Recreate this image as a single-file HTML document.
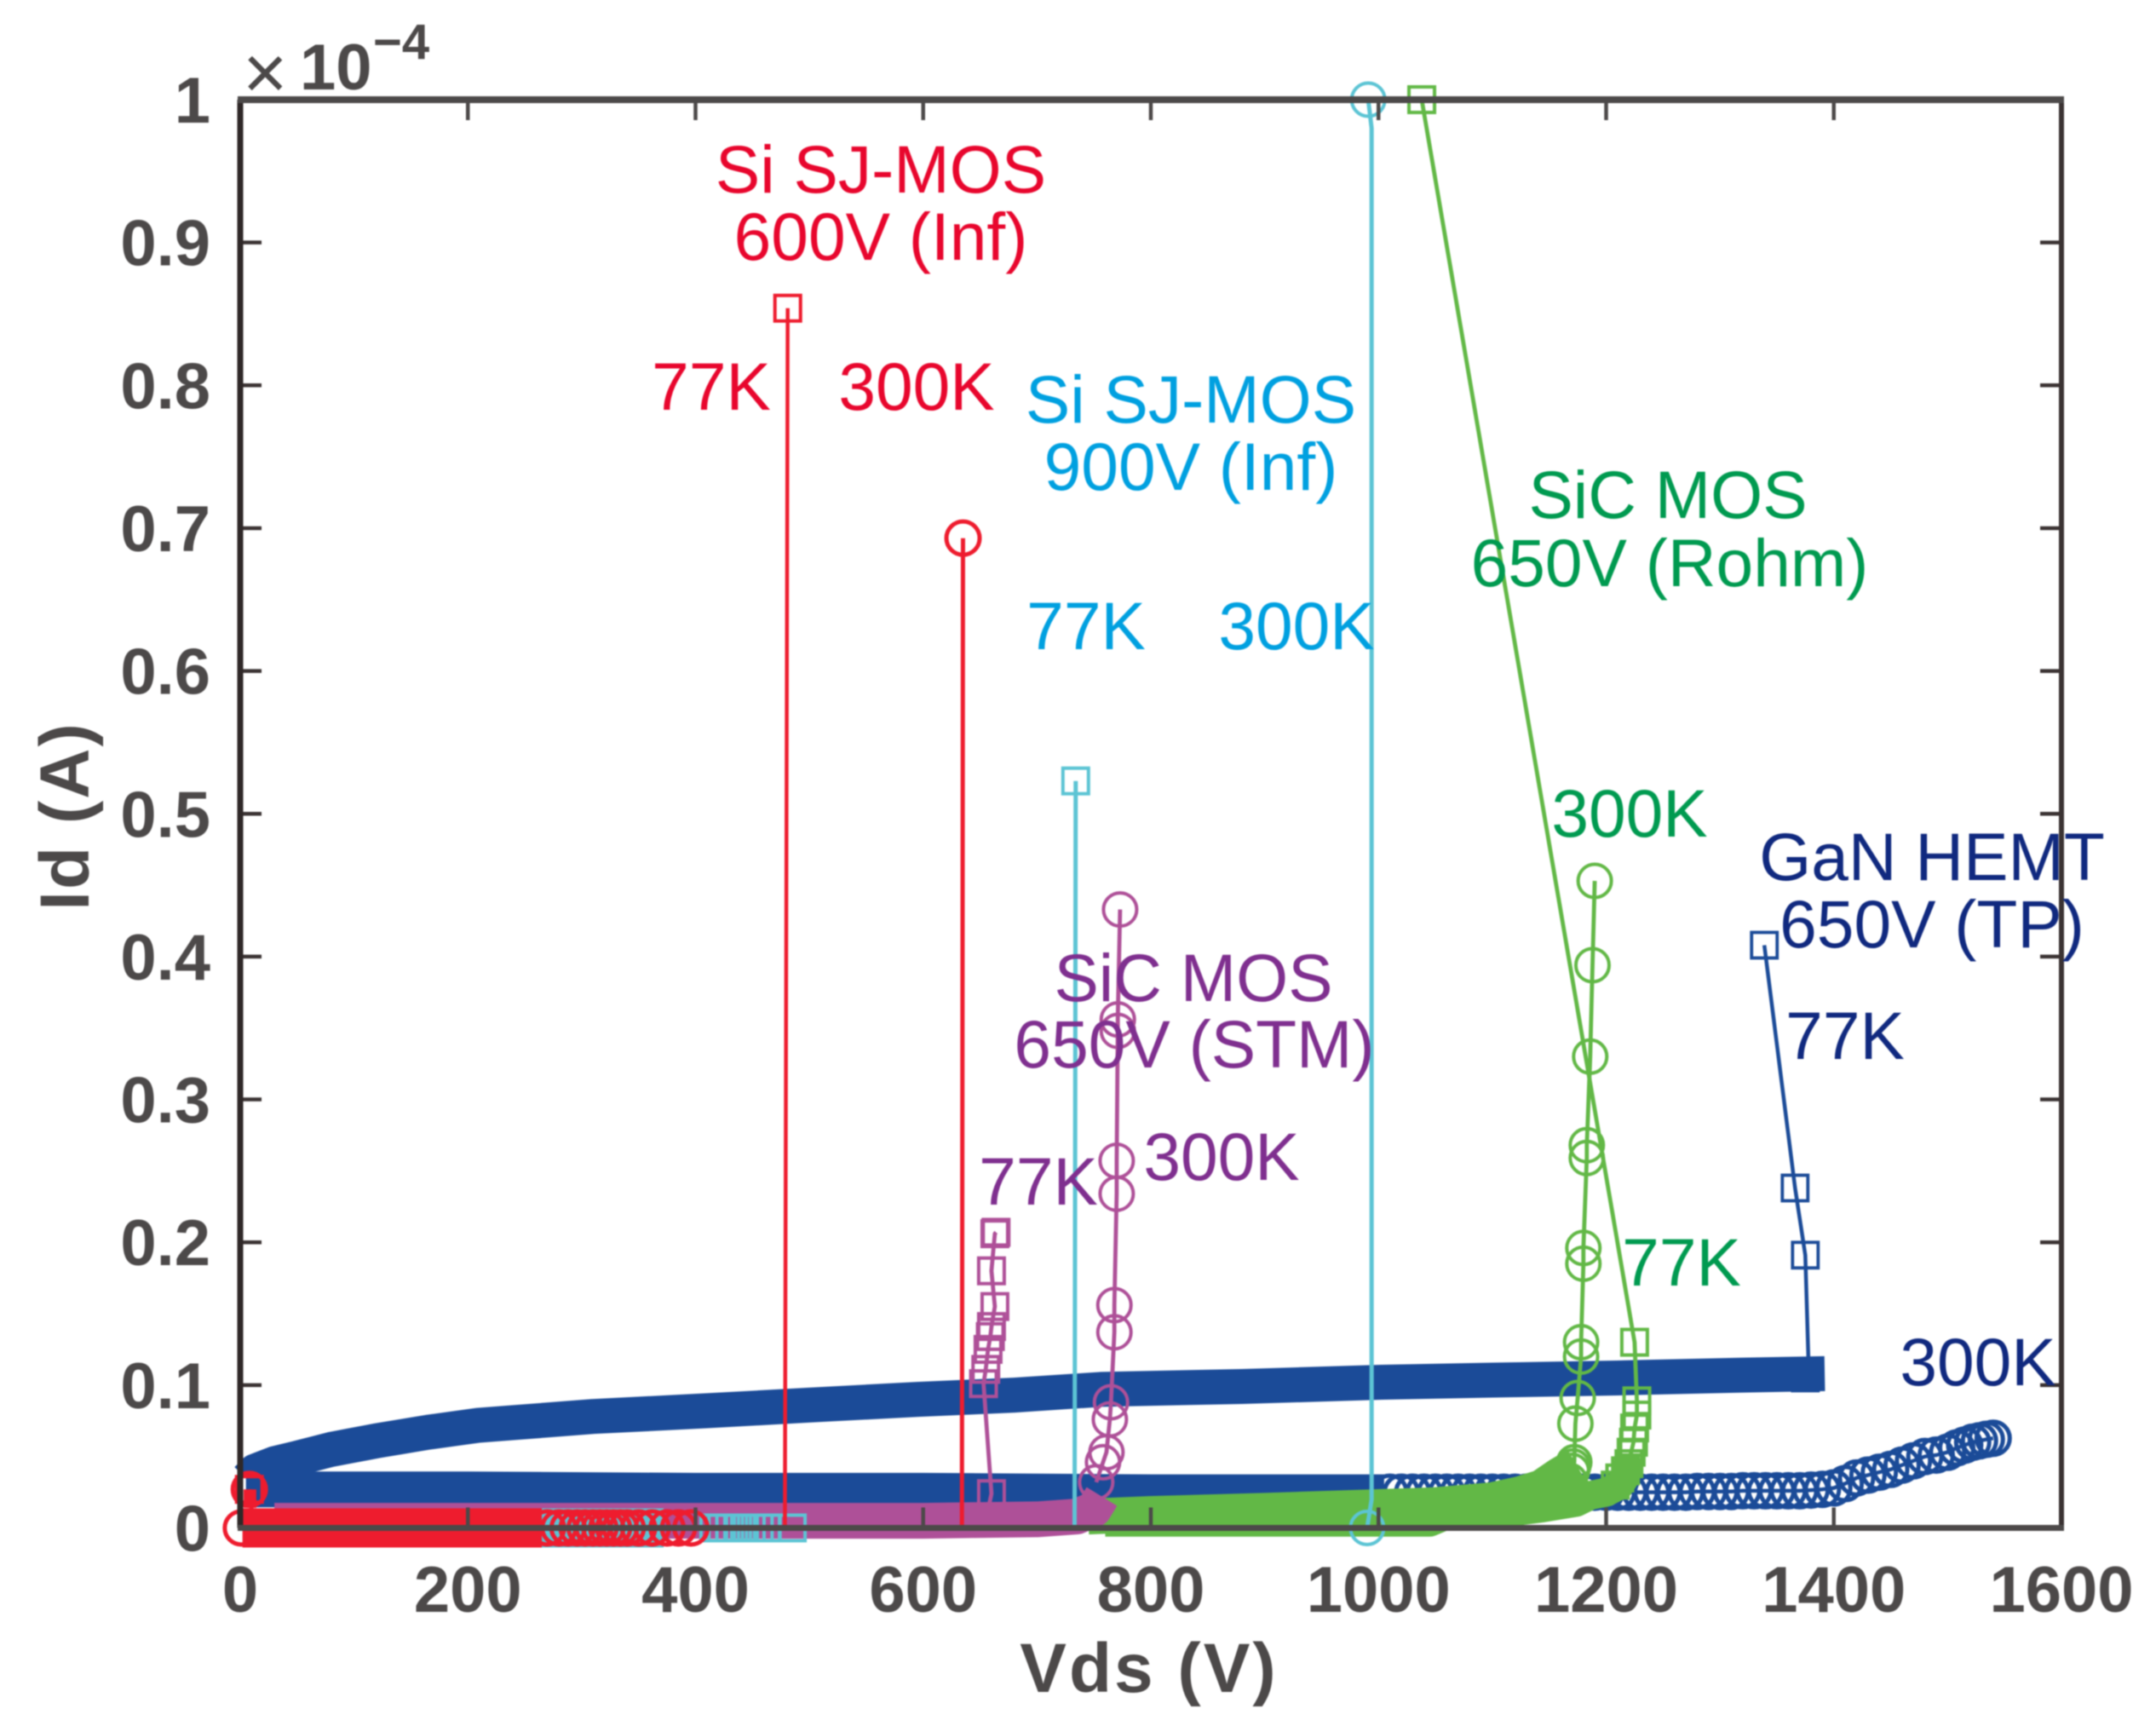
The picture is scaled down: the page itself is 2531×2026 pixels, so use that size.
<!DOCTYPE html>
<html lang="en">
<head>
<meta charset="utf-8">
<title>Id vs Vds breakdown chart</title>
<style>
html,body{margin:0;padding:0;background:#fff;}
#chart{display:block;width:2531px;height:2026px;filter:blur(0.7px);font-family:"Liberation Sans",sans-serif;}
.tick{font-weight:bold;font-size:76px;fill:#4c4949;}
.lab{font-size:78.5px;text-anchor:middle;}
.red{fill:#e8062d}.cyan{fill:#00a0e0}.green{fill:#009a50}.purple{fill:#7f2f8f}.navy{fill:#10297f}
</style>
</head>
<body>
<svg id="chart" xmlns="http://www.w3.org/2000/svg" width="2531" height="2026" viewBox="0 0 2531 2026">
  <rect x="0" y="0" width="2531" height="2026" fill="#fff"/>
  <g id="series"></g>
  <g id="axes"></g>

  <text x="285" y="116" font-size="90" fill="#4c4949">×</text>
  <text x="352" y="105" font-size="76" font-weight="bold" fill="#4c4949">10</text>
  <text x="438" y="69" font-size="58" font-weight="bold" fill="#4c4949">−4</text>
  <text x="1349" y="1986" font-size="82" font-weight="bold" fill="#4c4949" text-anchor="middle" letter-spacing="3">Vds (V)</text>
  <text transform="translate(104 958) rotate(-90)" font-size="82" font-weight="bold" fill="#4c4949" text-anchor="middle" letter-spacing="2">Id (A)</text>

  <text class="lab red" x="1034" y="226">Si SJ-MOS</text>
  <text class="lab red" x="1034" y="305">600V (Inf)</text>
  <text class="lab red" x="835" y="481">77K</text>
  <text class="lab red" x="1076" y="481">300K</text>

  <text class="lab cyan" x="1398" y="496">Si SJ-MOS</text>
  <text class="lab cyan" x="1398" y="575">900V (Inf)</text>
  <text class="lab cyan" x="1275" y="762">77K</text>
  <text class="lab cyan" x="1522" y="762">300K</text>

  <text class="lab green" x="1958" y="608">SiC MOS</text>
  <text class="lab green" x="1960" y="688">650V (Rohm)</text>
  <text class="lab green" x="1913" y="982">300K</text>
  <text class="lab green" x="1974" y="1509">77K</text>

  <text class="lab purple" x="1401" y="1175">SiC MOS</text>
  <text class="lab purple" x="1402" y="1253">650V (STM)</text>
  <text class="lab purple" x="1434" y="1385">300K</text>
  <text class="lab purple" x="1219" y="1414">77K</text>

  <text class="lab navy" x="2268" y="1033">GaN HEMT</text>
  <text class="lab navy" x="2268" y="1112">650V (TP)</text>
  <text class="lab navy" x="2166" y="1243">77K</text>
  <text class="lab navy" x="2322" y="1626">300K</text>
</svg>

<script>
// Axis tick values and labels
var xTickValues = [0, 200, 400, 600, 800, 1000, 1200, 1400, 1600];
var xTickLabels = ["0", "200", "400", "600", "800", "1000", "1200", "1400", "1600"];
var yTickValues = [0, 0.1, 0.2, 0.3, 0.4, 0.5, 0.6, 0.7, 0.8, 0.9, 1];
var yTickLabels = ["0", "0.1", "0.2", "0.3", "0.4", "0.5", "0.6", "0.7", "0.8", "0.9", "1"];

// GaN HEMT 77K: dense run + upper points
var gan77BandV = [6, 13, 30, 49, 80, 120, 165, 209, 310, 409, 500, 595, 680, 756, 880, 1003, 1100, 1210, 1321, 1392];
var gan77BandI = [0.034, 0.0397, 0.045, 0.0487, 0.055, 0.061, 0.067, 0.0718, 0.078, 0.082, 0.086, 0.09, 0.093, 0.097, 0.099, 0.102, 0.1035, 0.105, 0.107, 0.108];
var gan77V = [1370, 1375, 1378, 1375, 1366, 1339];
var gan77I = [0.108, 0.105, 0.109, 0.191, 0.238, 0.408];

// GaN HEMT 300K: dense run + resolved circles
var gan300BandV = [5, 30, 200, 400, 600, 800, 1005];
var gan300BandI = [0.027, 0.027, 0.027, 0.026, 0.026, 0.025, 0.025];
var gan300V = [1010, 1020, 1030, 1040, 1050, 1060, 1070, 1080, 1090, 1100, 1110, 1120, 1130, 1140, 1150, 1160, 1170, 1180, 1190, 1200, 1210, 1220, 1230, 1240, 1250, 1260, 1270, 1280, 1290, 1300, 1310, 1320, 1330, 1340, 1350, 1360, 1370, 1380, 1390, 1400, 1410, 1420, 1430, 1440, 1450, 1460, 1470, 1480, 1490, 1500, 1508, 1515, 1522, 1528, 1534, 1540];
var gan300I = [0.025, 0.025, 0.025, 0.025, 0.025, 0.025, 0.025, 0.025, 0.025, 0.025, 0.025, 0.025, 0.025, 0.025, 0.025, 0.025, 0.025, 0.025, 0.025, 0.025, 0.025, 0.025, 0.025, 0.025, 0.025, 0.025, 0.025, 0.0255, 0.0255, 0.0255, 0.0255, 0.026, 0.026, 0.026, 0.026, 0.026, 0.026, 0.0265, 0.027, 0.028, 0.031, 0.035, 0.037, 0.039, 0.041, 0.044, 0.047, 0.05, 0.051, 0.053, 0.056, 0.058, 0.06, 0.061, 0.062, 0.0628];

// SiC MOS 650V (Rohm)
var rohm300BandV = [745, 800, 900, 1000, 1050, 1099, 1124, 1143, 1159, 1174];
var rohm300BandI = [0.008, 0.0098, 0.012, 0.0146, 0.016, 0.0193, 0.0236, 0.0283, 0.037, 0.044];
var rohm300V = [1168, 1170, 1171, 1172, 1173, 1175, 1178, 1178, 1180, 1180, 1183, 1183, 1186, 1188, 1190];
var rohm300I = [0.033, 0.04, 0.043, 0.046, 0.073, 0.091, 0.12, 0.13, 0.185, 0.196, 0.259, 0.268, 0.33, 0.394, 0.453];
var rohm77BandV = [760, 900, 1000, 1045, 1060, 1124, 1144, 1174, 1186, 1200, 1212, 1217, 1221];
var rohm77BandI = [0.004, 0.004, 0.004, 0.004, 0.009, 0.012, 0.014, 0.018, 0.0228, 0.025, 0.03, 0.036, 0.05];
var rohm77V = [1208, 1212, 1217, 1220, 1222, 1224, 1225, 1227, 1227, 1225, 1038];
var rohm77I = [0.03, 0.035, 0.04, 0.045, 0.053, 0.06, 0.07, 0.079, 0.089, 0.13, 1.0];

// SiC MOS 650V (STM)
var stmBandV = [30, 200, 400, 600, 700, 735, 750, 757];
var stmBandI = [0.005, 0.005, 0.005, 0.005, 0.006, 0.008, 0.013, 0.022];
var stm300V = [752, 758, 761, 764, 765, 768, 768, 770, 770, 771, 771, 773];
var stm300I = [0.032, 0.046, 0.053, 0.076, 0.088, 0.137, 0.156, 0.234, 0.257, 0.348, 0.356, 0.433];
var stm77V = [655, 660, 653, 655, 657, 659, 660, 663, 660, 663, 664];
var stm77I = [0.005, 0.024, 0.101, 0.111, 0.125, 0.134, 0.141, 0.155, 0.18, 0.206, 0.207];

// Si SJ-MOS 900V
var si900BandV = [30, 150, 300, 372];
var si900BandI = [0, 0, 0, 0];
var si900SquareV = [416, 423, 430, 437, 443, 449, 456, 463, 485, 734];
var si900SquareI = [0, 0, 0, 0, 0, 0, 0, 0, 0, 0.523];
var si900q77V = [416, 485, 733, 734];
var si900q77I = [0, 0, 0, 0.523];
var si900q300V = [990, 994, 994, 991];
var si900q300I = [0, 0.02, 0.98, 1.0];

// Si SJ-MOS 600V
var si600BandV = [2, 100, 200, 265];
var si600BandI = [0, 0, 0, 0];
var si600RampV = [8.5, 8.5];
var si600RampI = [0.027, 0.014];
var si600RingV = [1, 8, 270, 280, 288, 296, 303, 310, 316, 322, 328, 334, 340, 350, 362, 375, 385, 396, 635];
var si600RingI = [0, 0.027, 0, 0, 0, 0, 0, 0, 0, 0, 0, 0, 0, 0, 0, 0, 0, 0, 0.693];
var si600q300V = [396, 634, 635];
var si600q300I = [0, 0, 0.693];
var si600q77V = [8, 12, 478.5, 481];
var si600q77I = [0.027, 0, 0, 0.854];
var si600SquareV = [8, 481];
var si600SquareI = [0.027, 0.854];

var SVGNS = "http://www.w3.org/2000/svg";
var seriesLayer = document.getElementById("series");
var axesLayer = document.getElementById("axes");

var AX_LEFT = 282, AX_RIGHT = 2420, AX_TOP = 117, AX_BOTTOM = 1793.5;
function xScale(v) { return AX_LEFT + v * (AX_RIGHT - AX_LEFT) / 1600; }
function yScale(i) { return AX_BOTTOM - i * (AX_BOTTOM - AX_TOP); }

function make(tag, parent, props) {
  var e = document.createElementNS(SVGNS, tag);
  for (var k in props) { e.setAttribute(k, props[k]); }
  parent.appendChild(e);
  return e;
}
function pointsOf(vs, is) {
  return vs.map(function (v, n) { return xScale(v).toFixed(1) + "," + yScale(is[n]).toFixed(1); }).join(" ");
}

function drawBand(name, vs, is, color, width, cap) {
  var el = make("polyline", seriesLayer, { points: pointsOf(vs, is), fill: "none", stroke: color, "stroke-width": width, "stroke-linecap": cap, "stroke-linejoin": "round" });
  
  
}
function drawLine(name, vs, is, color, width) {
  var el = make("polyline", seriesLayer, { points: pointsOf(vs, is), fill: "none", stroke: color, "stroke-width": width, "stroke-linejoin": "round" });
  
  
}
function drawCircles(name, vs, is, color, sw) {
  vs.forEach(function (v, n) {
    var el = make("circle", seriesLayer, { cx: xScale(v), cy: yScale(is[n]), r: 19.5, fill: "none", stroke: color, "stroke-width": sw });
    
    
  });
}
function drawSquares(name, vs, is, color, sw) {
  vs.forEach(function (v, n) {
    var el = make("rect", seriesLayer, { x: xScale(v) - 15, y: yScale(is[n]) - 15, width: 30, height: 30, fill: "none", stroke: color, "stroke-width": sw });
    
    
  });
}

var BLUE = "#1b4b98", GREEN = "#62b846", PURPLE = "#ae5098", CYAN = "#5cc4d4", RED = "#ee1c2e";

// GaN
drawBand("gan-77k-band", gan77BandV, gan77BandI, BLUE, 41, "butt");
drawBand("gan-300k-band", gan300BandV, gan300BandI, BLUE, 42, "butt");
drawLine("gan-300k-line", gan300V, gan300I, BLUE, 4.5);
drawCircles("gan-300k-point", gan300V, gan300I, BLUE, 5);
drawLine("gan-77k-line", gan77V, gan77I, BLUE, 4.5);
drawSquares("gan-77k-point", gan77V, gan77I, BLUE, 3.8);

// Rohm
drawBand("rohm-300k-band", rohm300BandV, rohm300BandI, GREEN, 42, "butt");
drawBand("rohm-77k-band", rohm77BandV, rohm77BandI, GREEN, 34, "butt");
drawLine("rohm-300k-line", rohm300V, rohm300I, GREEN, 4.8);
drawCircles("rohm-300k-point", rohm300V, rohm300I, GREEN, 4);
drawLine("rohm-77k-line", rohm77V, rohm77I, GREEN, 4.8);
drawSquares("rohm-77k-point", rohm77V, rohm77I, GREEN, 4);

// STM
drawBand("stm-band", stmBandV, stmBandI, PURPLE, 42, "butt");
drawLine("stm-300k-line", stm300V, stm300I, PURPLE, 4.8);
drawCircles("stm-300k-point", stm300V, stm300I, PURPLE, 4);
drawLine("stm-77k-line", stm77V, stm77I, PURPLE, 4.8);
drawSquares("stm-77k-point", stm77V, stm77I, PURPLE, 4);

// Si 900V
drawBand("si900-band", si900BandV, si900BandI, CYAN, 46, "butt");
drawLine("si900-77k-line", si900q77V, si900q77I, CYAN, 5);
drawSquares("si900-77k-point", si900SquareV, si900SquareI, CYAN, 4);
drawLine("si900-300k-line", si900q300V, si900q300I, CYAN, 5);
drawCircles("si900-300k-point", [si900q300V[0], si900q300V[3]], [si900q300I[0], si900q300I[3]], CYAN, 4);

// Si 600V
drawBand("si600-band", si600BandV, si600BandI, RED, 46, "butt");
drawBand("si600-ramp", si600RampV, si600RampI, RED, 15, "butt");
drawLine("si600-300k-line", si600q300V, si600q300I, RED, 5);
drawCircles("si600-300k-point", si600RingV, si600RingI, RED, 5);
drawLine("si600-77k-line", si600q77V, si600q77I, RED, 4.5);
drawSquares("si600-77k-point", si600SquareV, si600SquareI, RED, 4);

// Axes (drawn above the data)
xTickValues.forEach(function (v, n) {
  var x = xScale(v);
  var tb = make("line", axesLayer, { x1: x, x2: x, y1: AX_BOTTOM, y2: AX_BOTTOM - 24, stroke: "#4c4949", "stroke-width": 4.5 });
  
  
  var tt = make("line", axesLayer, { x1: x, x2: x, y1: AX_TOP, y2: AX_TOP + 24, stroke: "#4c4949", "stroke-width": 4.5 });
  
  
  var lb = make("text", axesLayer, { x: x, y: 1892, "class": "tick", "text-anchor": "middle" });
  
  
  lb.textContent = xTickLabels[n];
});
yTickValues.forEach(function (v, n) {
  var y = yScale(v);
  var tl = make("line", axesLayer, { x1: AX_LEFT, x2: AX_LEFT + 25, y1: y, y2: y, stroke: "#3a3232", "stroke-width": 4.5 });
  
  
  var tr = make("line", axesLayer, { x1: AX_RIGHT, x2: AX_RIGHT - 25, y1: y, y2: y, stroke: "#3a3232", "stroke-width": 4.5 });
  
  
  var lb = make("text", axesLayer, { x: 247, y: y + 27, "class": "tick", "text-anchor": "end" });
  
  
  lb.textContent = yTickLabels[n];
});
var axisLeft = make("line", axesLayer, { x1: AX_LEFT, x2: AX_LEFT, y1: AX_TOP, y2: AX_BOTTOM, stroke: "#2f2828", "stroke-width": 7 });


var axisRight = make("line", axesLayer, { x1: AX_RIGHT, x2: AX_RIGHT, y1: AX_TOP, y2: AX_BOTTOM, stroke: "#3a3232", "stroke-width": 6 });


var axisTop = make("line", axesLayer, { x1: AX_LEFT - 3, x2: AX_RIGHT + 3, y1: AX_TOP, y2: AX_TOP, stroke: "#4c4949", "stroke-width": 8 });


var axisBottom = make("line", axesLayer, { x1: AX_LEFT - 3, x2: AX_RIGHT + 3, y1: AX_BOTTOM, y2: AX_BOTTOM, stroke: "#4c4949", "stroke-width": 7 });


</script>
</body>
</html>
